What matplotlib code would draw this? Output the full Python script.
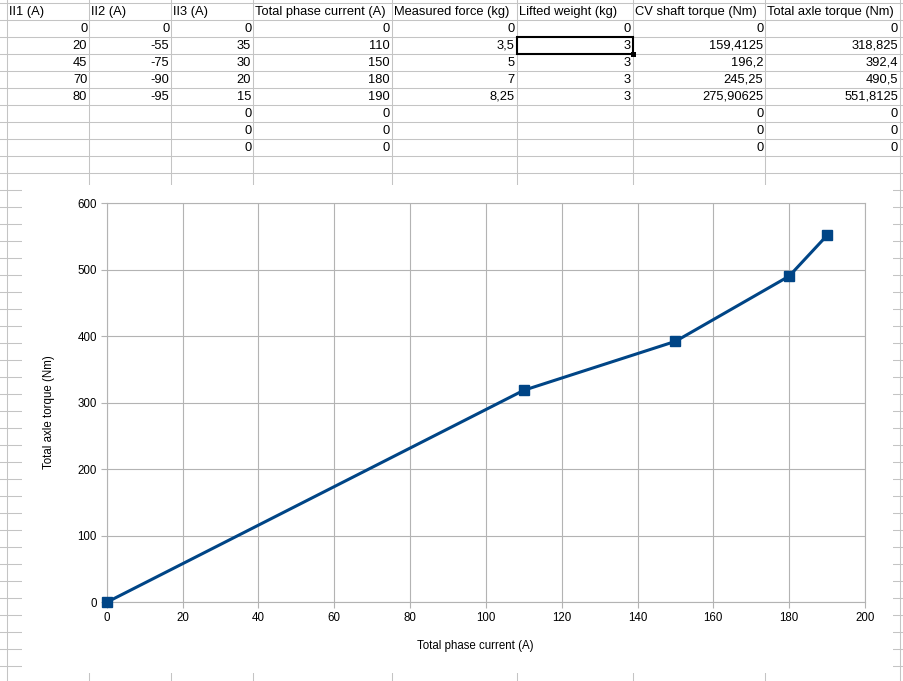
import matplotlib
matplotlib.use("Agg")
import matplotlib.pyplot as plt
from matplotlib.patches import Rectangle

plt.rcParams['font.family'] = ['Liberation Sans', 'DejaVu Sans']

# spreadsheet data
headers = ["II1 (A)", "II2 (A)", "II3 (A)", "Total phase current (A)",
           "Measured force (kg)", "Lifted weight (kg)",
           "CV shaft torque (Nm)", "Total axle torque (Nm)"]
i1 = [0, 20, 45, 70, 80, None, None, None]
i2 = [0, -55, -75, -90, -95, None, None, None]
i3 = [0, 35, 30, 20, 15, 0, 0, 0]
total_current = [0, 110, 150, 180, 190, 0, 0, 0]
measured_force = [0, 3.5, 5, 7, 8.25, None, None, None]
lifted_weight = [0, 3, 3, 3, 3, None, None, None]
cv_torque = [0, 159.4125, 196.2, 245.25, 275.90625, 0, 0, 0]
axle_torque = [0, 318.825, 392.4, 490.5, 551.8125, 0, 0, 0]

# chart series (first five rows)
chart_x = total_current[:5]
chart_y = axle_torque[:5]

W, H = 904, 681
DPI = 100
fig = plt.figure(figsize=(W / DPI, H / DPI), dpi=DPI)

bg = fig.add_axes([0, 0, 1, 1])
bg.set_xlim(0, W)
bg.set_ylim(H, 0)
bg.axis("off")

grid_c = "#c4c4c4"
col_x = [7.3, 89.3, 171.3, 253.3, 391.7, 516.7, 632.7, 765.3, 900]
row_y0, row_h = 3.3, 17.0

for x in col_x:
    bg.plot([x, x], [0, H], color=grid_c, lw=0.75, zorder=1)
k = 0
while row_y0 + row_h * k < H:
    y = row_y0 + row_h * k
    bg.plot([0, W], [y, y], color=grid_c, lw=0.75, zorder=1)
    k += 1

def cell_text(v):
    if v is None:
        return ""
    return str(v).replace(".", ",")

columns = [i1, i2, i3, total_current, measured_force, lifted_weight, cv_torque, axle_torque]
tfs = 9.3
for c, name in enumerate(headers):
    bg.text(col_x[c] + 2, row_y0 + row_h * 0.5, name, ha="left", va="center",
            fontsize=tfs, color="black", zorder=3)
    for r, v in enumerate(columns[c]):
        yc = row_y0 + row_h * (r + 1.5)
        bg.text(col_x[c + 1] - 2, yc, cell_text(v), ha="right", va="center",
                fontsize=tfs, color="black", zorder=3)

# selected cell
bg.add_patch(Rectangle((col_x[5], row_y0 + row_h * 2), col_x[6] - col_x[5], row_h,
                       fill=False, ec="black", lw=1.5, zorder=4))
bg.add_patch(Rectangle((col_x[6] - 2, row_y0 + row_h * 3 - 2), 5, 5,
                       fc="black", ec="none", zorder=4))

# chart object background
bg.add_patch(Rectangle((22, 185), 871, 488, fc="white", ec="none", zorder=2))

# chart
px0, px1, py0, py1 = 106.7, 865.0, 203.3, 602.3
ax = fig.add_axes([px0 / W, 1 - py1 / H, (px1 - px0) / W, (py1 - py0) / H])
ax.set_facecolor("none")
ax.set_xlim(0, 200)
ax.set_ylim(0, 600)
ax.set_xticks(range(0, 201, 20))
ax.set_yticks(range(0, 601, 100))
ax.grid(True, color="#b3b3b3", lw=0.8)
ax.set_axisbelow(True)
for s in ax.spines.values():
    s.set_color("#b3b3b3")
    s.set_linewidth(0.8)
ax.tick_params(direction="out", length=4.5, width=0.8, color="#b3b3b3",
               labelsize=8.3, labelcolor="black", pad=2.5)
ax.plot(chart_x, chart_y, color="#004586", lw=2.2, marker="s", markersize=7.5,
        clip_on=False, zorder=5)

fig.text(475 / W, 1 - 646 / H, "Total phase current (A)", ha="center", va="center",
         fontsize=8.3)
fig.text(49 / W, 1 - 412 / H, "Total axle torque (Nm)", ha="center", va="center",
         rotation=90, fontsize=8.3)

fig.savefig("out.png", dpi=DPI)
